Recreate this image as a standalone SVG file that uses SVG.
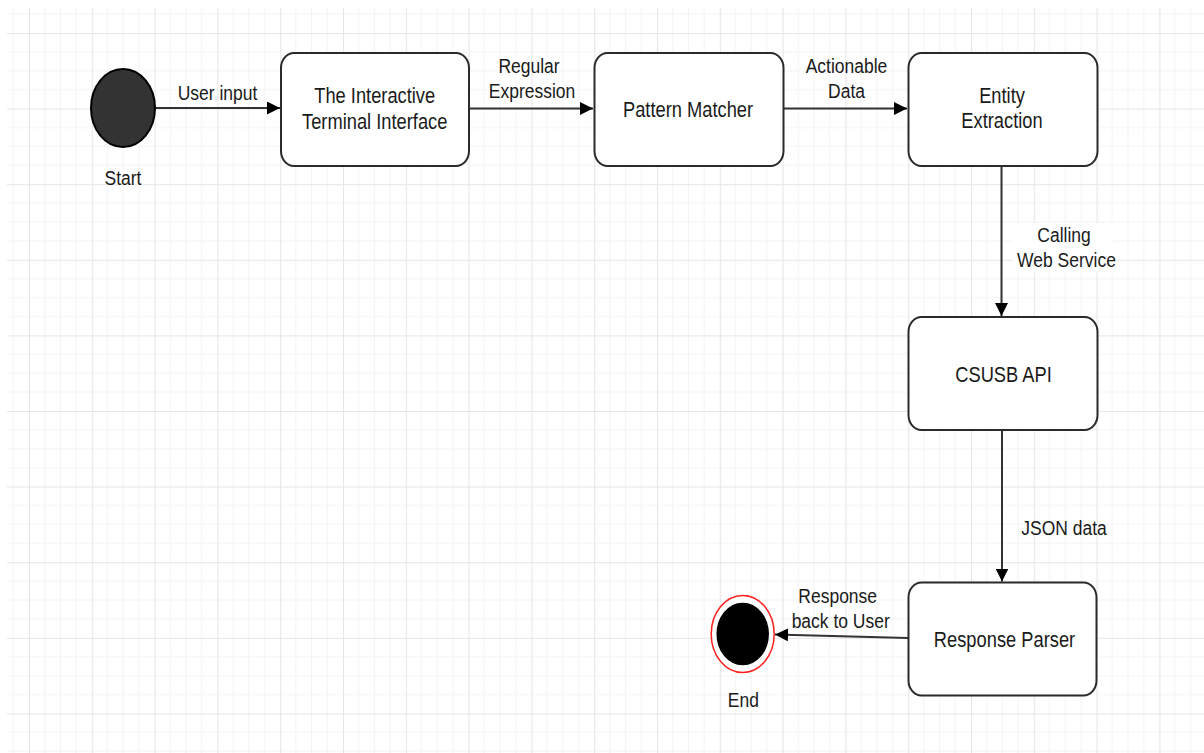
<svg xmlns="http://www.w3.org/2000/svg" width="1204" height="753" viewBox="0 0 1204 753">
<defs>
<pattern id="grid" x="29" y="33" width="62.8" height="75.6" patternUnits="userSpaceOnUse">
<g stroke="#f3f3f3" stroke-width="1" fill="none">
<line x1="15.7" y1="0" x2="15.7" y2="75.6"/>
<line x1="31.4" y1="0" x2="31.4" y2="75.6"/>
<line x1="47.1" y1="0" x2="47.1" y2="75.6"/>
<line x1="0" y1="18.9" x2="62.8" y2="18.9"/>
<line x1="0" y1="37.8" x2="62.8" y2="37.8"/>
<line x1="0" y1="56.7" x2="62.8" y2="56.7"/>
</g>
<g stroke="#e6e6e6" stroke-width="1.2" fill="none">
<line x1="0.5" y1="0" x2="0.5" y2="75.6"/>
<line x1="0" y1="0.5" x2="62.8" y2="0.5"/>
</g>
</pattern>
<marker id="arrow" viewBox="0 0 10 10" refX="10" refY="5" markerWidth="13" markerHeight="13" markerUnits="userSpaceOnUse" orient="auto">
<path d="M0,0 L10,5 L0,10 z" fill="#000"/>
</marker>
<style>
.box{fill:#fff;stroke:#2a2a2a;stroke-width:2}
.t{font-family:"Liberation Sans",Arial,sans-serif;font-size:17.5px;fill:#1a1a1a;text-anchor:middle}
.n{font-size:18.3px}
.edge{stroke:#333;stroke-width:2;fill:none;marker-end:url(#arrow)}
</style>
</defs>
<rect x="0" y="0" width="1204" height="753" fill="#fff"/>
<rect x="7" y="8" width="1197" height="745" fill="url(#grid)"/>

<g id="connectors">
<line class="edge" x1="156" y1="108" x2="280" y2="108"/>
<line class="edge" x1="469" y1="108.5" x2="593" y2="108.5"/>
<line class="edge" x1="783" y1="108.5" x2="907" y2="108.5"/>
<line class="edge" x1="1001.5" y1="166" x2="1001.5" y2="316"/>
<line class="edge" x1="1002" y1="430" x2="1002" y2="581.5"/>
<line class="edge" x1="908" y1="638" x2="775" y2="634.5"/>
<g id="label-user-input"><text class="t" transform="translate(217.5,100) scale(1,1.2)">User input</text></g>
<g id="label-regex">
<text class="t" transform="translate(529,73.3) scale(1,1.2)">Regular</text>
<text class="t" transform="translate(532,98.3) scale(1,1.2)">Expression</text>
</g>
<g id="label-actionable">
<text class="t" transform="translate(846.5,73.3) scale(1,1.2)">Actionable</text>
<text class="t" transform="translate(846.5,97.5) scale(1,1.2)">Data</text>
</g>
<g id="label-calling">
<rect x="1013" y="223" width="100" height="49" fill="#fff"/>
<text class="t" transform="translate(1064,241.7) scale(1,1.2)">Calling</text>
<text class="t" transform="translate(1066.5,266.7) scale(1,1.2)">Web Service</text>
</g>
<g id="label-json"><text class="t" transform="translate(1064,535) scale(1,1.2)">JSON data</text></g>
<g id="label-response">
<text class="t" transform="translate(837.7,603.3) scale(1,1.2)">Response</text>
<text class="t" transform="translate(840.7,628.3) scale(1,1.2)">back to User</text>
</g>
</g>

<g id="start">
<ellipse cx="123" cy="108" rx="32" ry="39" fill="#333" stroke="#000" stroke-width="2"/>
<text class="t" transform="translate(123,185) scale(1,1.2)">Start</text>
</g>

<g id="terminal">
<rect class="box" x="281" y="53" width="188" height="113" rx="13" ry="15"/>
<text class="t n" transform="translate(374.7,103.3) scale(1,1.2)">The Interactive</text>
<text class="t n" transform="translate(374.7,129.3) scale(1,1.2)">Terminal Interface</text>
</g>

<g id="pattern">
<rect class="box" x="594.5" y="53" width="189" height="113" rx="13" ry="15"/>
<text class="t n" transform="translate(688,117.3) scale(1,1.2)">Pattern Matcher</text>
</g>

<g id="entity">
<rect class="box" x="908.5" y="53" width="189" height="113" rx="13" ry="15"/>
<text class="t n" transform="translate(1002,102.7) scale(1,1.2)">Entity</text>
<text class="t n" transform="translate(1002,128.3) scale(1,1.2)">Extraction</text>
</g>

<g id="csusb">
<rect class="box" x="908.5" y="317" width="189" height="113" rx="13" ry="15"/>
<text class="t n" transform="translate(1003.5,381.7) scale(1,1.2)">CSUSB API</text>
</g>

<g id="parser">
<rect class="box" x="908.5" y="582.5" width="188" height="113" rx="13" ry="15"/>
<text class="t n" transform="translate(1004.5,646.7) scale(1,1.2)">Response Parser</text>
</g>

<g id="end">
<ellipse cx="742.7" cy="634" rx="31.5" ry="38.5" fill="#fff" stroke="#ff2020" stroke-width="1.5"/>
<ellipse cx="742.7" cy="634" rx="25.5" ry="30.5" fill="#000" stroke="#000" stroke-width="1.5"/>
<text class="t" transform="translate(743.3,707.3) scale(1,1.2)">End</text>
</g>
</svg>
